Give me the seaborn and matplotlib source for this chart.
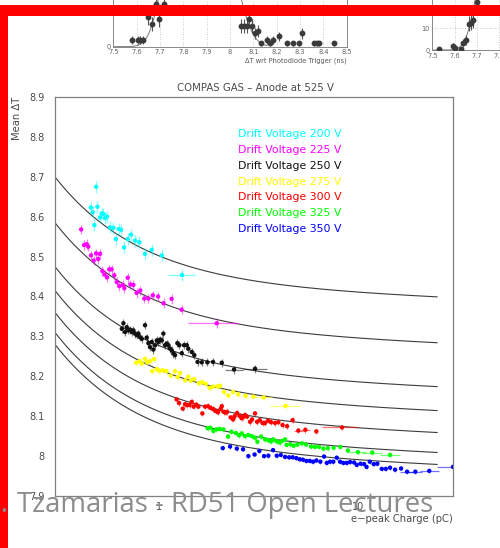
import numpy as np
import pandas as pd
import matplotlib
matplotlib.use("Agg")
import matplotlib.pyplot as plt
import seaborn as sns
from matplotlib.patches import Rectangle
from matplotlib.ticker import FixedLocator, MultipleLocator, NullFormatter, FuncFormatter

# ---------------------------------------------------------------- data
voltages = [200, 225, 250, 275, 300, 325, 350]
colors = ["#00ffff", "#ff00ff", "#111111", "#ffff00", "#ff0000", "#00ff00", "#0000ff"]

q200 = [0.454, 0.464, 0.473, 0.483, 0.490, 0.505, 0.515, 0.525, 0.537, 0.548, 0.567, 0.589,
        0.606, 0.627, 0.644, 0.667, 0.696, 0.723, 0.758, 0.796, 0.850, 0.919, 1.032, 1.305]
dt200 = [8.623, 8.611, 8.579, 8.675, 8.625, 8.598, 8.608, 8.607, 8.597, 8.600, 8.573, 8.572,
         8.544, 8.569, 8.567, 8.523, 8.544, 8.555, 8.540, 8.536, 8.507, 8.517, 8.503, 8.454]

q225 = [0.406, 0.420, 0.432, 0.441, 0.455, 0.469, 0.483, 0.494, 0.505, 0.519, 0.532, 0.548,
        0.562, 0.577, 0.596, 0.613, 0.632, 0.657, 0.669, 0.696, 0.718, 0.743, 0.771, 0.805,
        0.843, 0.884, 0.930, 0.989, 1.053, 1.156, 1.297, 1.950]
dt225 = [8.568, 8.529, 8.531, 8.525, 8.503, 8.490, 8.508, 8.494, 8.507, 8.464, 8.455, 8.448,
         8.468, 8.468, 8.453, 8.436, 8.426, 8.429, 8.421, 8.447, 8.430, 8.429, 8.409, 8.415,
         8.395, 8.395, 8.403, 8.400, 8.383, 8.394, 8.367, 8.333]

q250 = [0.650, 0.662, 0.675, 0.688, 0.701, 0.715, 0.729, 0.743, 0.757, 0.773, 0.787, 0.803,
        0.819, 0.850, 0.867, 0.884, 0.901, 0.919, 0.936, 0.955, 0.974, 0.992, 1.012, 1.032,
        1.051, 1.072, 1.093, 1.114, 1.136, 1.158, 1.180, 1.203, 1.236, 1.265, 1.300, 1.335,
        1.378, 1.403, 1.460, 1.504, 1.561, 1.639, 1.749, 1.868, 2.066, 2.382, 3.037]
dt250 = [8.319, 8.333, 8.311, 8.323, 8.315, 8.317, 8.311, 8.315, 8.307, 8.303, 8.307, 8.298,
         8.294, 8.328, 8.297, 8.283, 8.273, 8.286, 8.267, 8.278, 8.290, 8.286, 8.292, 8.290,
         8.307, 8.278, 8.282, 8.278, 8.269, 8.265, 8.257, 8.253, 8.283, 8.278, 8.258, 8.278,
         8.278, 8.269, 8.261, 8.253, 8.236, 8.235, 8.235, 8.236, 8.234, 8.217, 8.219]

q275 = [0.766, 0.798, 0.819, 0.850, 0.870, 0.901, 0.944, 0.924, 0.974, 1.004, 1.044, 1.088,
        1.145, 1.203, 1.239, 1.275, 1.351, 1.403, 1.443, 1.499, 1.585, 1.648, 1.719, 1.798,
        1.874, 1.975, 2.026, 2.121, 2.230, 2.354, 2.503, 2.721, 2.978, 3.350, 4.322]
dt275 = [8.234, 8.238, 8.232, 8.244, 8.235, 8.238, 8.243, 8.213, 8.218, 8.214, 8.215, 8.213,
         8.202, 8.213, 8.198, 8.208, 8.190, 8.199, 8.189, 8.193, 8.183, 8.185, 8.181, 8.171,
         8.174, 8.175, 8.176, 8.161, 8.152, 8.161, 8.155, 8.151, 8.149, 8.147, 8.126]

q300 = [1.225, 1.260, 1.316, 1.351, 1.378, 1.423, 1.460, 1.491, 1.540, 1.576, 1.650, 1.703,
        1.763, 1.814, 1.874, 1.922, 1.979, 2.037, 2.066, 2.109, 2.159, 2.197, 2.288, 2.355,
        2.396, 2.466, 2.538, 2.598, 2.643, 2.705, 2.768, 2.866, 2.934, 3.037, 3.109, 3.206,
        3.312, 3.410, 3.529, 3.654, 3.827, 3.976, 4.174, 4.397, 4.688, 5.012, 5.435, 6.173, 8.310]
dt300 = [8.142, 8.133, 8.119, 8.130, 8.128, 8.128, 8.136, 8.124, 8.129, 8.124, 8.107, 8.124,
         8.125, 8.121, 8.118, 8.113, 8.110, 8.118, 8.125, 8.111, 8.109, 8.111, 8.097, 8.092,
         8.100, 8.108, 8.101, 8.095, 8.098, 8.103, 8.099, 8.086, 8.092, 8.107, 8.086, 8.090,
         8.083, 8.083, 8.089, 8.085, 8.083, 8.085, 8.078, 8.075, 8.090, 8.064, 8.066, 8.062, 8.072]

q325 = [1.753, 1.810, 1.874, 1.941, 2.014, 2.105, 2.222, 2.309, 2.432, 2.524, 2.604, 2.705,
        2.810, 2.923, 3.037, 3.119, 3.256, 3.410, 3.542, 3.654, 3.753, 3.895, 4.032, 4.150,
        4.297, 4.372, 4.568, 4.742, 4.955, 5.213, 5.479, 5.805, 6.080, 6.368, 6.693, 7.050,
        7.534, 8.151, 8.886, 9.977, 11.79, 14.48]
dt325 = [8.070, 8.071, 8.063, 8.067, 8.068, 8.067, 8.049, 8.061, 8.058, 8.052, 8.057, 8.050,
         8.053, 8.050, 8.046, 8.036, 8.049, 8.042, 8.040, 8.037, 8.042, 8.037, 8.034, 8.038,
         8.042, 8.028, 8.030, 8.026, 8.029, 8.032, 8.029, 8.024, 8.023, 8.023, 8.019, 8.020,
         8.021, 8.023, 8.014, 8.010, 8.009, 8.003]

q350 = [2.090, 2.274, 2.458, 2.643, 2.810, 3.020, 3.192, 3.370, 3.542, 3.740, 3.904, 4.089,
        4.297, 4.500, 4.688, 4.898, 5.082, 5.280, 5.498, 5.719, 5.942, 6.173, 6.465, 6.747,
        6.961, 7.232, 7.515, 7.816, 8.121, 8.439, 8.774, 9.117, 9.548, 9.851, 10.29, 10.72,
        11.03, 11.45, 11.99, 12.50, 13.16, 13.78, 14.48, 15.35, 16.45, 17.63, 19.41, 22.79, 30.0]
dt350 = [8.020, 8.024, 8.019, 8.017, 8.000, 8.004, 8.013, 8.000, 8.001, 8.015, 8.001, 8.003,
         7.998, 7.997, 7.997, 7.995, 7.992, 7.991, 7.988, 7.988, 7.986, 7.989, 7.986, 7.999,
         7.983, 7.986, 7.986, 7.996, 7.986, 7.983, 7.983, 7.985, 7.984, 7.978, 7.981, 7.980,
         7.973, 7.986, 7.980, 7.981, 7.968, 7.968, 7.971, 7.966, 7.969, 7.961, 7.961, 7.963, 7.973]

charges = [q200, q225, q250, q275, q300, q325, q350]
mean_dts = [dt200, dt225, dt250, dt275, dt300, dt325, dt350]
dt_errors = [0.015, 0.012, 0.010, 0.007, 0.007, 0.006, 0.005]

# wide charge bins: (point index, low edge, high edge)
charge_bins = {
    200: [(23, 1.11, 1.52)],
    225: [(31, 1.39, 2.49)],
    250: [(45, 2.14, 2.64), (46, 2.64, 3.49)],
    275: [(33, 3.04, 3.70), (34, 3.61, 5.11)],
    300: [(45, 4.75, 5.30), (46, 5.15, 5.75), (48, 6.57, 10.0)],
    325: [(39, 9.0, 10.9), (40, 10.5, 13.2), (41, 12.9, 16.2)],
    350: [(45, 16.3, 19.0), (46, 17.8, 21.0), (47, 20.5, 25.5), (48, 24.8, 36.0)],
}

# time-walk fit:  mean_dt = offset + B / q + D * log10(q)
fit_offset = [8.421, 8.306, 8.196, 8.136, 8.081, 8.031, 8.001]
fit_B = 0.0808
fit_D = -0.018
fit_range = (0.3, 25.0)

# timing spectra shown above the plot
spec_a_t = [7.579, 7.607, 7.614, 7.626, 7.647, 7.667, 7.681, 7.696, 7.717, 8.046, 8.060,
            8.071, 8.083, 8.096, 8.107, 8.119, 8.133, 8.160, 8.171, 8.183, 8.210, 8.246,
            8.271, 8.297, 8.310, 8.361, 8.371, 8.383, 8.447]
spec_a_n = [3, 3, 3, 3, 13, 10, 19, 12, 19, 9, 9, 9, 12, 9, 6, 7, 1.5, 3, 1.5, 3, 4.5, 1.5,
            1.5, 1.5, 6, 1.5, 1.5, 1.5, 1.5]
spec_a_fits = [(40.0, 7.75, 0.05, 7.5, 7.75), (40.0, 7.98, 0.06, 8.0, 8.16)]

spec_b_t = [7.532, 7.592, 7.602, 7.628, 7.640, 7.650, 7.665, 7.673, 7.682, 7.700]
spec_b_n = [0.5, 1.8, 0.8, 0.5, 3.4, 4.6, 12.0, 12.6, 13.8, 22.0]
spec_b_fit = (40.0, 7.74, 0.045, 7.5, 7.72)

# ---------------------------------------------------------------- figure
sns.set_style("white")
plt.rcParams["font.family"] = ["DejaVu Sans"]

W, H = 500, 548
fig = plt.figure(figsize=(W / 100, H / 100), dpi=100)


def fx(px):
    return px / W


def fy(py):
    return 1 - py / H


TXT = "#4a4a4a"
AXC = "#808080"

# ---- main panel
ax = fig.add_axes([fx(55), fy(496), fx(453) - fx(55), fy(97) - fy(496)])

frames = [pd.DataFrame({"charge": q, "mean_dt": d, "voltage": v})
          for v, q, d in zip(voltages, charges, mean_dts)]
df = pd.concat(frames, ignore_index=True)

for v, q, d, err, c in zip(voltages, charges, mean_dts, dt_errors, colors):
    ax.errorbar(q, d, yerr=err, fmt="none", ecolor=c, elinewidth=0.9,
                alpha=0.5, capsize=0, zorder=2)
    for i, lo, hi in charge_bins[v]:
        ax.hlines(d[i], lo, hi, color=c, lw=0.9, alpha=0.55, zorder=2)

sns.scatterplot(data=df, x="charge", y="mean_dt", hue="voltage",
                palette=dict(zip(voltages, colors)), s=10, linewidth=0,
                legend=False, ax=ax, zorder=3)

qq = np.logspace(np.log10(fit_range[0]), np.log10(fit_range[1]), 400)
for off in fit_offset:
    ax.plot(qq, off + fit_B / qq + fit_D * np.log10(qq), color="#3c3c3c", lw=0.8, zorder=1)

ax.set_xscale("log")
ax.set_xlim(0.3, 30)
ax.set_ylim(7.9, 8.9)
ax.xaxis.set_major_locator(FixedLocator([1, 10]))
ax.xaxis.set_minor_locator(FixedLocator([0.4, 0.5, 0.6, 0.7, 0.8, 0.9,
                                         2, 3, 4, 5, 6, 7, 8, 9, 20]))
ax.xaxis.set_major_formatter(FuncFormatter(lambda v, p: f"{v:g}"))
ax.xaxis.set_minor_formatter(NullFormatter())
ax.yaxis.set_major_locator(MultipleLocator(0.1))
ax.yaxis.set_minor_locator(MultipleLocator(0.02))
ax.yaxis.set_major_formatter(FuncFormatter(lambda v, p: f"{v:.1f}".rstrip("0").rstrip(".")))
ax.tick_params(which="both", direction="in", top=False, right=False,
               color=AXC, labelcolor=TXT, labelsize=7, width=0.8)
ax.tick_params(which="major", length=6.5)
ax.tick_params(which="minor", length=3.3)
ax.tick_params(axis="y", pad=7.5)
ax.tick_params(axis="x", pad=4)
for s in ax.spines.values():
    s.set_color(AXC)
    s.set_linewidth(0.9)
ax.set_xlabel("e\u2212peak Charge (pC)", loc="right", fontsize=7.2, color=TXT, labelpad=2)
ax.set_ylabel("Mean \u0394T", loc="top", fontsize=7.2, color=TXT)
ax.yaxis.set_label_coords(-0.082, 1.0)

for k, (v, c) in enumerate(zip(voltages, colors)):
    ax.text(0.46, 0.907 - k * 0.0396, f"Drift Voltage {v} V", transform=ax.transAxes,
            color=c, fontsize=7.8, va="center", ha="left")

fig.text(fx(255), fy(88), "COMPAS GAS \u2013 Anode at 525 V", ha="center", va="center",
         fontsize=7.3, color=TXT)


# ---- timing spectra
def gauss(x, a, mu, s):
    return a * np.exp(-0.5 * ((x - mu) / s) ** 2)


px_per_count_a = 2.27
axa = fig.add_axes([fx(113.3), fy(46.7), fx(346.7) - fx(113.3), fy(-40) - fy(46.7)])
axa.errorbar(spec_a_t, spec_a_n, yerr=np.sqrt(spec_a_n), fmt="o", ms=3.2, color="#3a3a3a",
             ecolor="#555555", elinewidth=0.8, capsize=0, zorder=3)
for a, mu, s, t0, t1 in spec_a_fits:
    tt = np.linspace(t0, t1, 200)
    axa.plot(tt, gauss(tt, a, mu, s), color="#777777", lw=0.7, zorder=2)
axa.set_xlim(7.5, 8.5)
axa.set_ylim(0, 86.7 / px_per_count_a)
axa.xaxis.set_major_locator(MultipleLocator(0.1))
axa.xaxis.set_minor_locator(MultipleLocator(0.02))
axa.xaxis.set_major_formatter(FuncFormatter(lambda v, p: f"{v:g}"))
axa.yaxis.set_major_locator(FixedLocator([0]))
axa.yaxis.set_minor_locator(MultipleLocator(4))
axa.grid(axis="x", which="major", color="#bbbbbb", ls=(0, (1, 2)), lw=0.6)
axa.set_xlabel("\u0394T wrt Photodiode Trigger (ns)", loc="right", fontsize=4.8,
               color="#555555", labelpad=1.5)

px_per_count_b = 2.17
axb = fig.add_axes([fx(432.3), fy(50), fx(432.3 + 0.5 * 222.2) - fx(432.3), fy(-40) - fy(50)])
axb.errorbar(spec_b_t, spec_b_n, yerr=np.sqrt(spec_b_n), fmt="o", ms=3.2, color="#3a3a3a",
             ecolor="#555555", elinewidth=0.8, capsize=0, zorder=3)
tt = np.linspace(spec_b_fit[3], spec_b_fit[4], 200)
axb.plot(tt, gauss(tt, *spec_b_fit[:3]), color="#777777", lw=0.7, zorder=2)
axb.set_xlim(7.5, 8.0)
axb.set_ylim(0, 90 / px_per_count_b)
axb.xaxis.set_major_locator(MultipleLocator(0.1))
axb.xaxis.set_minor_locator(MultipleLocator(0.02))
axb.xaxis.set_major_formatter(FuncFormatter(lambda v, p: f"{v:g}"))
axb.yaxis.set_major_locator(FixedLocator([0, 10]))
axb.yaxis.set_minor_locator(MultipleLocator(2))
axb.grid(which="major", color="#bbbbbb", ls=(0, (1, 2)), lw=0.6)

for a_ in (axa, axb):
    a_.set_ylabel("")
    a_.tick_params(which="both", direction="in", top=False, right=False, color="#888888",
                   labelcolor="#666666", labelsize=4.8, width=0.6, pad=2)
    a_.tick_params(which="major", length=4)
    a_.tick_params(which="minor", length=2)
    for s in a_.spines.values():
        s.set_color("#888888")
        s.set_linewidth(0.7)

# ---- slide frame and footer
fig.add_artist(Rectangle((0, fy(16)), 1, fy(5) - fy(16), transform=fig.transFigure,
                         facecolor="#ff0000", edgecolor="none", zorder=10))
fig.add_artist(Rectangle((0, 0), fx(8), fy(5), transform=fig.transFigure,
                         facecolor="#ff0000", edgecolor="none", zorder=10))
fig.text(fx(9), fy(512), "S.E.", ha="right", va="baseline", fontsize=20,
         family="Open Sans", color="#8c8c8c", zorder=20)
fig.text(fx(17), fy(512), "Tzamarias - RD51 Open Lectures", ha="left", va="baseline",
         fontsize=19.8, family="Open Sans", color="#8c8c8c", zorder=20)

fig.savefig("out.png", dpi=100, facecolor="white")
